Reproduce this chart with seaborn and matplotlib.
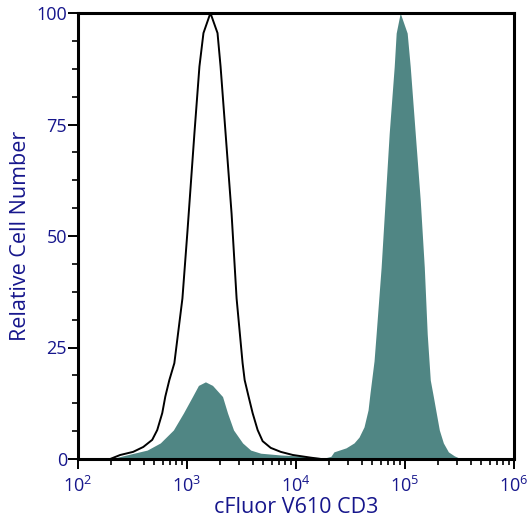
import matplotlib
matplotlib.use("Agg")
import matplotlib.pyplot as plt
import matplotlib.ticker as mticker
import seaborn as sns
import numpy as np
import pandas as pd

# Control (open black histogram): log10 intensity, relative count
control_log = [2.295, 2.387, 2.506, 2.599, 2.681, 2.727, 2.773, 2.801, 2.838, 2.884, 2.958,
               3.004, 3.068, 3.114, 3.151, 3.215, 3.280, 3.308, 3.354, 3.409, 3.455, 3.510,
               3.529, 3.565, 3.602, 3.648, 3.694, 3.768, 3.860, 3.971, 4.136, 4.230]
control_val = [0.0, 0.9, 1.6, 2.7, 4.3, 6.5, 10.3, 14.0, 17.7, 21.5, 36.0,
               51.0, 73.0, 88.0, 95.5, 100.0, 95.5, 88.0, 73.0, 55.0, 36.0, 21.5,
               17.7, 14.0, 10.3, 6.5, 4.0, 2.5, 1.6, 0.9, 0.3, 0.0]

# Stained sample (filled teal histogram)
stained_log = [2.295, 2.479, 2.635, 2.755, 2.875, 2.967, 3.050, 3.105, 3.169, 3.234, 3.326,
               3.372, 3.427, 3.510, 3.584, 3.676, 3.860, 4.017, 4.136, 4.274,
               4.320, 4.348, 4.459, 4.532, 4.578, 4.624, 4.661, 4.679, 4.716, 4.735, 4.781,
               4.818, 4.855, 4.901, 4.919, 4.956, 5.020, 5.048, 5.094, 5.140, 5.177, 5.204,
               5.232, 5.260, 5.287, 5.315, 5.352, 5.398, 5.453, 5.517]
stained_val = [0.0, 1.1, 2.0, 3.6, 6.5, 10.3, 14.0, 16.5, 17.3, 16.5, 14.0,
               10.3, 6.5, 3.6, 2.0, 1.3, 0.9, 0.7, 0.4, 0.3,
               0.6, 1.6, 2.5, 3.6, 4.9, 7.2, 11.0, 14.8, 22.0, 28.0, 43.0,
               58.0, 73.0, 88.0, 95.5, 100.0, 95.5, 88.0, 73.0, 58.0, 43.0, 28.0,
               17.7, 14.0, 10.3, 6.5, 3.6, 1.6, 0.7, 0.0]

x_ticks = [1e2, 1e3, 1e4, 1e5, 1e6]
y_ticks = [0, 25, 50, 75, 100]
x_label = "cFluor V610 CD3"
y_label = "Relative Cell Number"

text_color = "#16168c"
fill_color = "#508684"

sns.set_theme(style="white")
plt.rcParams['font.family'] = ['Open Sans', 'DejaVu Sans']

fig = plt.figure(figsize=(5.30, 5.29), dpi=100)
ax = fig.add_axes([78/530, 70/529, 436/530, 446/529])

ctrl = pd.DataFrame({"x": np.power(10.0, control_log), "y": control_val})
stn = pd.DataFrame({"x": np.power(10.0, stained_log), "y": stained_val})

ax.fill_between(stn["x"], 0, stn["y"], color=fill_color, linewidth=0, zorder=2)
sns.lineplot(data=ctrl, x="x", y="y", ax=ax, color="black", linewidth=1.4,
             estimator=None, sort=False, zorder=3)

ax.set_xscale("log")
ax.set_xlim(1e2, 1e6)
ax.set_ylim(0, 100)
ax.set_xticks(x_ticks)
ax.xaxis.set_major_formatter(mticker.LogFormatterMathtext())
ax.xaxis.set_minor_locator(mticker.LogLocator(base=10, subs=np.arange(2, 10)))
ax.xaxis.set_minor_formatter(mticker.NullFormatter())
ax.set_yticks(y_ticks)
ax.yaxis.set_minor_locator(mticker.MultipleLocator(6.25))

for s in ax.spines.values():
    s.set_color("black")
    s.set_linewidth(2.2)
ax.tick_params(axis="both", which="major", direction="out", length=7, width=1.4,
               color="black", labelcolor=text_color, labelsize=13, bottom=True, left=True)
ax.tick_params(axis="x", which="major", pad=5)
ax.tick_params(axis="y", which="major", pad=1)
ax.tick_params(axis="both", which="minor", direction="out", length=4, width=1.2,
               color="black", bottom=True, left=True)

ax.set_xlabel(x_label, color=text_color, fontsize=15.5, labelpad=1)
ax.set_ylabel(y_label, color=text_color, fontsize=15.5, labelpad=4)

fig.savefig("out.png", dpi=100)
